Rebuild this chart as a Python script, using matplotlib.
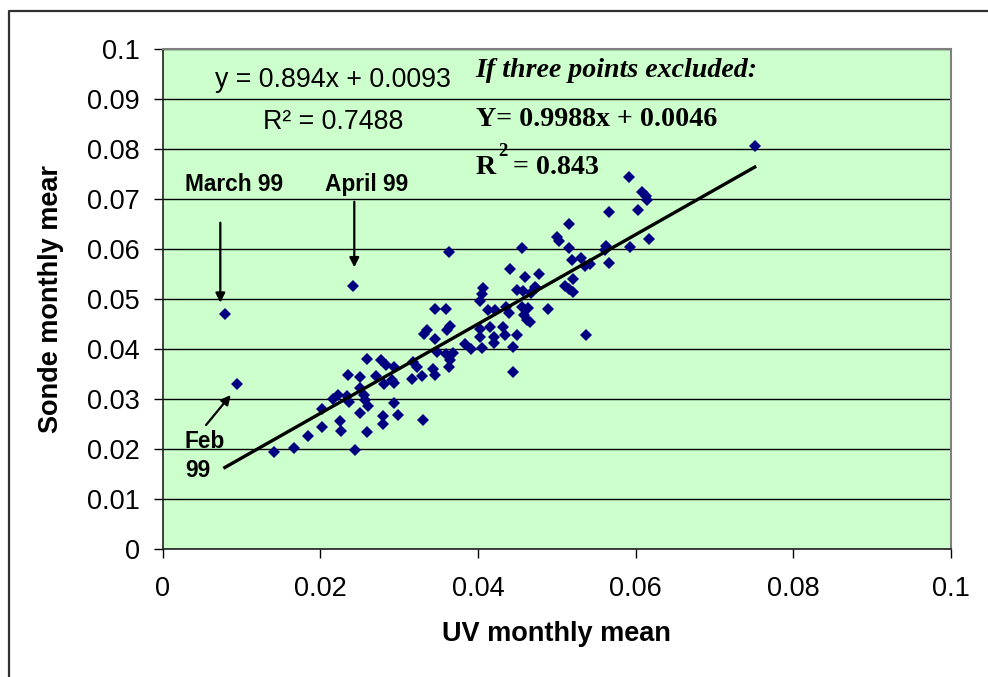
import numpy as np
import matplotlib
matplotlib.use("Agg")
import matplotlib.pyplot as plt

# data
uv_mean = [
    0.0079, 0.0094, 0.0242, 0.0751, 0.0141, 0.0167, 0.0185, 0.0202, 0.0202, 0.0225,
    0.0226, 0.0244, 0.0251, 0.0259, 0.0216, 0.0223, 0.0234, 0.0237, 0.0251, 0.0255,
    0.0257, 0.0261, 0.0235, 0.0251, 0.0259, 0.0271, 0.0277, 0.0284, 0.0294, 0.0281,
    0.0291, 0.0293, 0.0293, 0.0279, 0.0279, 0.0299, 0.0330, 0.0318, 0.0323, 0.0329,
    0.0316, 0.0343, 0.0346, 0.0348, 0.0360, 0.0369, 0.0365, 0.0363, 0.0384, 0.0391,
    0.0332, 0.0335, 0.0346, 0.0365, 0.0361, 0.0346, 0.0360, 0.0363, 0.0403, 0.0415,
    0.0432, 0.0403, 0.0420, 0.0405, 0.0421, 0.0434, 0.0449, 0.0445, 0.0445, 0.0413,
    0.0422, 0.0435, 0.0440, 0.0456, 0.0464, 0.0458, 0.0462, 0.0466, 0.0489, 0.0537,
    0.0407, 0.0405, 0.0403, 0.0449, 0.0457, 0.0472, 0.0474, 0.0467, 0.0511, 0.0516,
    0.0520, 0.0520, 0.0441, 0.0460, 0.0478, 0.0519, 0.0531, 0.0536, 0.0542, 0.0566,
    0.0456, 0.0516, 0.0500, 0.0503, 0.0516, 0.0562, 0.0561, 0.0593, 0.0617, 0.0566,
    0.0603, 0.0592, 0.0608, 0.0613, 0.0615,
]
sonde_mean = [
    0.0470, 0.0331, 0.0526, 0.0807, 0.0195, 0.0203, 0.0227, 0.0244, 0.0280, 0.0257,
    0.0237, 0.0199, 0.0272, 0.0234, 0.0300, 0.0308, 0.0307, 0.0295, 0.0323, 0.0309,
    0.0299, 0.0286, 0.0349, 0.0345, 0.0380, 0.0347, 0.0378, 0.0369, 0.0365, 0.0330,
    0.0338, 0.0333, 0.0293, 0.0266, 0.0250, 0.0269, 0.0258, 0.0374, 0.0364, 0.0346,
    0.0341, 0.0360, 0.0348, 0.0394, 0.0391, 0.0393, 0.0379, 0.0365, 0.0411, 0.0401,
    0.0430, 0.0439, 0.0421, 0.0447, 0.0439, 0.0480, 0.0480, 0.0595, 0.0440, 0.0445,
    0.0445, 0.0424, 0.0424, 0.0403, 0.0412, 0.0429, 0.0429, 0.0404, 0.0355, 0.0479,
    0.0478, 0.0485, 0.0473, 0.0485, 0.0483, 0.0468, 0.0459, 0.0455, 0.0480, 0.0429,
    0.0523, 0.0510, 0.0497, 0.0519, 0.0517, 0.0525, 0.0522, 0.0512, 0.0526, 0.0521,
    0.0514, 0.0540, 0.0560, 0.0544, 0.0550, 0.0578, 0.0582, 0.0567, 0.0571, 0.0573,
    0.0602, 0.0602, 0.0625, 0.0616, 0.0651, 0.0606, 0.0599, 0.0605, 0.0620, 0.0675,
    0.0678, 0.0744, 0.0714, 0.0706, 0.0699,
]

slope = 0.894
intercept = 0.0093

ticks = [0, 0.02, 0.04, 0.06, 0.08, 0.1]
yticks = [0, 0.01, 0.02, 0.03, 0.04, 0.05, 0.06, 0.07, 0.08, 0.09, 0.1]

SANS = "Liberation Sans"
SERIF = "Liberation Serif"

x = np.array(uv_mean)
y = np.array(sonde_mean)

fig = plt.figure(figsize=(9.88, 6.77), dpi=100)
ax = fig.add_axes([0.1645, 0.1886, 0.7981, 0.7386])
ax.set_facecolor("#CCFFCC")

ax.set_xlim(0, 0.1)
ax.set_ylim(0, 0.1)
ax.set_xticks(ticks)
ax.set_xticklabels(["0", "0.02", "0.04", "0.06", "0.08", "0.1"])
ax.set_yticks(yticks)
ax.set_yticklabels(["0", "0.01", "0.02", "0.03", "0.04", "0.05", "0.06",
                    "0.07", "0.08", "0.09", "0.1"])
for lab in ax.get_xticklabels() + ax.get_yticklabels():
    lab.set_fontfamily(SANS)
    lab.set_fontsize(19.5)
ax.tick_params(axis="x", direction="out", length=6.5, width=1, pad=13)
ax.tick_params(axis="y", direction="out", length=6.5, width=1, pad=10)

ax.yaxis.grid(True, color="black", lw=1.0)
ax.set_axisbelow(True)
for side in ["top", "right"]:
    ax.spines[side].set_color("#808080")
    ax.spines[side].set_linewidth(1.5)
for side in ["left", "bottom"]:
    ax.spines[side].set_color("#202020")
    ax.spines[side].set_linewidth(1.2)

ax.plot(x, y, "D", color="#000080", ms=6.3, mew=0, zorder=3)

# trend line over the data range
xl = np.array([x.min(), x.max()])
ax.plot(xl, slope * xl + intercept, color="black", lw=2.4, zorder=4)

ax.set_xlabel("UV monthly mean", fontfamily=SANS, fontsize=19.5, fontweight="bold")
ax.set_ylabel("Sonde monthly mear", fontfamily=SANS, fontsize=19.5, fontweight="bold")
ax.xaxis.set_label_coords(0.5, -0.169)
ax.xaxis.label.set_va("center")
ax.yaxis.set_label_coords(-0.1414, 0.5)
ax.yaxis.label.set_va("center")

# equation boxes
ax.text(0.2162, 0.9386, "y = 0.894x + 0.0093", transform=ax.transAxes,
        fontfamily=SANS, fontsize=19.3, ha="center", va="center")
ax.text(0.2162, 0.8546, "R\u00b2 = 0.7488", transform=ax.transAxes,
        fontfamily=SANS, fontsize=19.3, ha="center", va="center")
ax.text(0.3972, 0.9566, "If three points excluded:", transform=ax.transAxes,
        fontfamily=SERIF, fontsize=20.2, fontweight="bold", fontstyle="italic",
        ha="left", va="center")
ax.text(0.3972, 0.8586, "Y= 0.9988x + 0.0046", transform=ax.transAxes,
        fontfamily=SERIF, fontsize=20.2, fontweight="bold", ha="left", va="center")
ax.text(0.3972, 0.7626, "R", transform=ax.transAxes,
        fontfamily=SERIF, fontsize=20.2, fontweight="bold", ha="left", va="center")
ax.text(0.4255, 0.7946, "2", transform=ax.transAxes,
        fontfamily=SERIF, fontsize=13.5, fontweight="bold", ha="left", va="center")
ax.text(0.4445, 0.7626, "= 0.843", transform=ax.transAxes,
        fontfamily=SERIF, fontsize=20.2, fontweight="bold", ha="left", va="center")

# month labels with arrows
lab_kw = dict(fontfamily=SANS, fontsize=16.3, fontweight="bold")
arr = dict(arrowstyle="-|>", color="black", lw=1.6, mutation_scale=14,
           shrinkA=0, shrinkB=0)
ax.text(0.0913, 0.73, "March 99", transform=ax.transAxes, ha="center", va="center", **lab_kw)
ax.text(0.2594, 0.73, "April 99", transform=ax.transAxes, ha="center", va="center", **lab_kw)
ax.text(0.0285, 0.1866, "Feb\n99", transform=ax.transAxes, ha="left", va="center",
        linespacing=1.3, **lab_kw)
ax.annotate("", xy=(0.0733, 0.4932), xytext=(0.0733, 0.6532),
            xycoords="axes fraction", arrowprops=arr)
ax.annotate("", xy=(0.2432, 0.564), xytext=(0.2432, 0.6952),
            xycoords="axes fraction", arrowprops=arr)
ax.annotate("", xy=(0.0865, 0.3086), xytext=(0.0552, 0.2486),
            xycoords="axes fraction", arrowprops=arr)

# outer chart border (runs off the right/bottom edge)
bx = 9 / 988
by = 1 - 10.7 / 677
fig.add_artist(plt.Line2D([bx, bx, 1.01], [-0.01, by, by],
                          transform=fig.transFigure, color="#303030", lw=1.6))

fig.savefig("out.png", dpi=100)
